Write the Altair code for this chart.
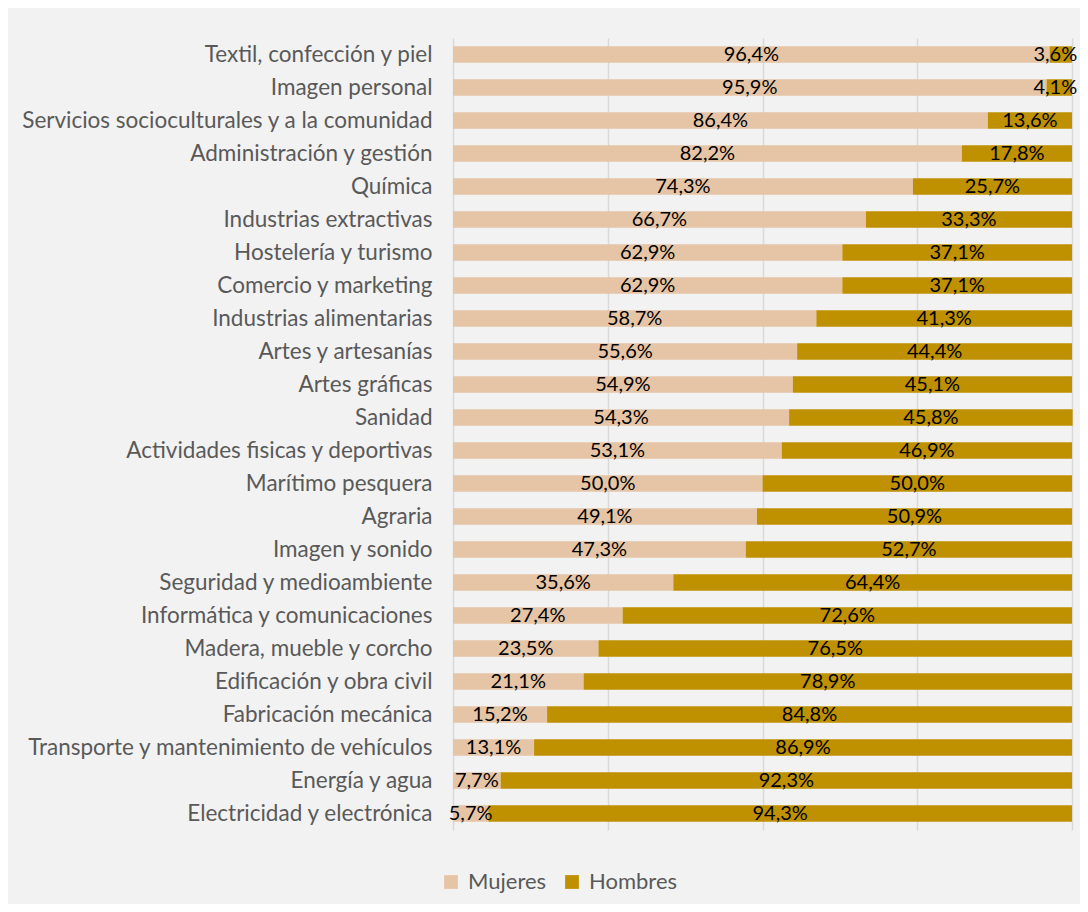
import altair as alt
import pandas as pd

categories = [
    "Textil, confección y piel",
    "Imagen personal",
    "Servicios socioculturales y a la comunidad",
    "Administración y gestión",
    "Química",
    "Industrias extractivas",
    "Hostelería y turismo",
    "Comercio y marketing",
    "Industrias alimentarias",
    "Artes y artesanías",
    "Artes gráficas",
    "Sanidad",
    "Actividades fisicas y deportivas",
    "Marítimo pesquera",
    "Agraria",
    "Imagen y sonido",
    "Seguridad y medioambiente",
    "Informática  y comunicaciones",
    "Madera, mueble y corcho",
    "Edificación y obra civil",
    "Fabricación mecánica",
    "Transporte y mantenimiento de vehículos",
    "Energía y agua",
    "Electricidad y electrónica",
]
mujeres = [96.4, 95.9, 86.4, 82.2, 74.3, 66.7, 62.9, 62.9, 58.7, 55.6, 54.9, 54.3,
           53.1, 50.0, 49.1, 47.3, 35.6, 27.4, 23.5, 21.1, 15.2, 13.1, 7.7, 5.7]
hombres = [3.6, 4.1, 13.6, 17.8, 25.7, 33.3, 37.1, 37.1, 41.3, 44.4, 45.1, 45.8,
           46.9, 50.0, 50.9, 52.7, 64.4, 72.6, 76.5, 78.9, 84.8, 86.9, 92.3, 94.3]
series = ["Mujeres", "Hombres"]
colors = ["#E6C5A7", "#BF9000"]

rows = []
for c, m, h in zip(categories, mujeres, hombres):
    for s, v, o in ((series[0], m, 0), (series[1], h, 1)):
        rows.append({"cat": c, "serie": s, "v": v, "ord": o,
                     "lab": f"{v:.1f}".replace(".", ",") + "%"})
df = pd.DataFrame(rows)

FONT = "Lato"

y_enc = alt.Y("cat:N", sort=categories, title=None,
              scale=alt.Scale(paddingInner=0.5, paddingOuter=0.25),
              axis=alt.Axis(ticks=False, domain=False, labelPadding=21,
                            labelLimit=500, labelFontSize=22.5, labelFont=FONT,
                            labelColor="#595959", grid=False))
x_scale = alt.Scale(domain=[0, 100], nice=False, zero=True)

bars = alt.Chart(df).mark_bar().encode(
    y=y_enc,
    x=alt.X("v:Q", stack="zero", scale=x_scale, title=None,
            axis=alt.Axis(values=[0, 25, 50, 75, 100], labels=False, ticks=False,
                          domain=False, grid=True, gridColor="#D9D9D9",
                          gridWidth=1.5)),
    color=alt.Color("serie:N", sort=series,
                    scale=alt.Scale(domain=series, range=colors),
                    legend=alt.Legend(title=None, orient="none", direction="horizontal",
                                      legendX=-13, legendY=833, padding=0,
                                      symbolType="square",
                                      symbolSize=190, symbolStrokeWidth=0,
                                      labelFontSize=22, labelFont=FONT,
                                      labelColor="#595959", columnPadding=14,
                                      labelOffset=6)),
    order=alt.Order("ord:Q"),
)

labels = alt.Chart(df).mark_text(fontSize=20, font=FONT, color="#000000",
                                 baseline="middle", align="center").encode(
    y=alt.Y("cat:N", sort=categories),
    text="lab:N",
).transform_stack(
    stack="v", groupby=["cat"], as_=["v0", "v1"], sort=[alt.SortField("ord")]
).transform_calculate(mid="min((datum.v0 + datum.v1) / 2, 97.3)").encode(
    x=alt.X("mid:Q", scale=x_scale)
)

chart = alt.layer(bars, labels).properties(
    width=619, height=792, background="#F2F2F2",
    padding={"left": 445, "top": 30, "right": 8, "bottom": 74},
    autosize=alt.AutoSizeParams(type="none"),
).configure_view(stroke=None)

chart.save("out.html", embed_options={"renderer": "svg", "actions": False})
